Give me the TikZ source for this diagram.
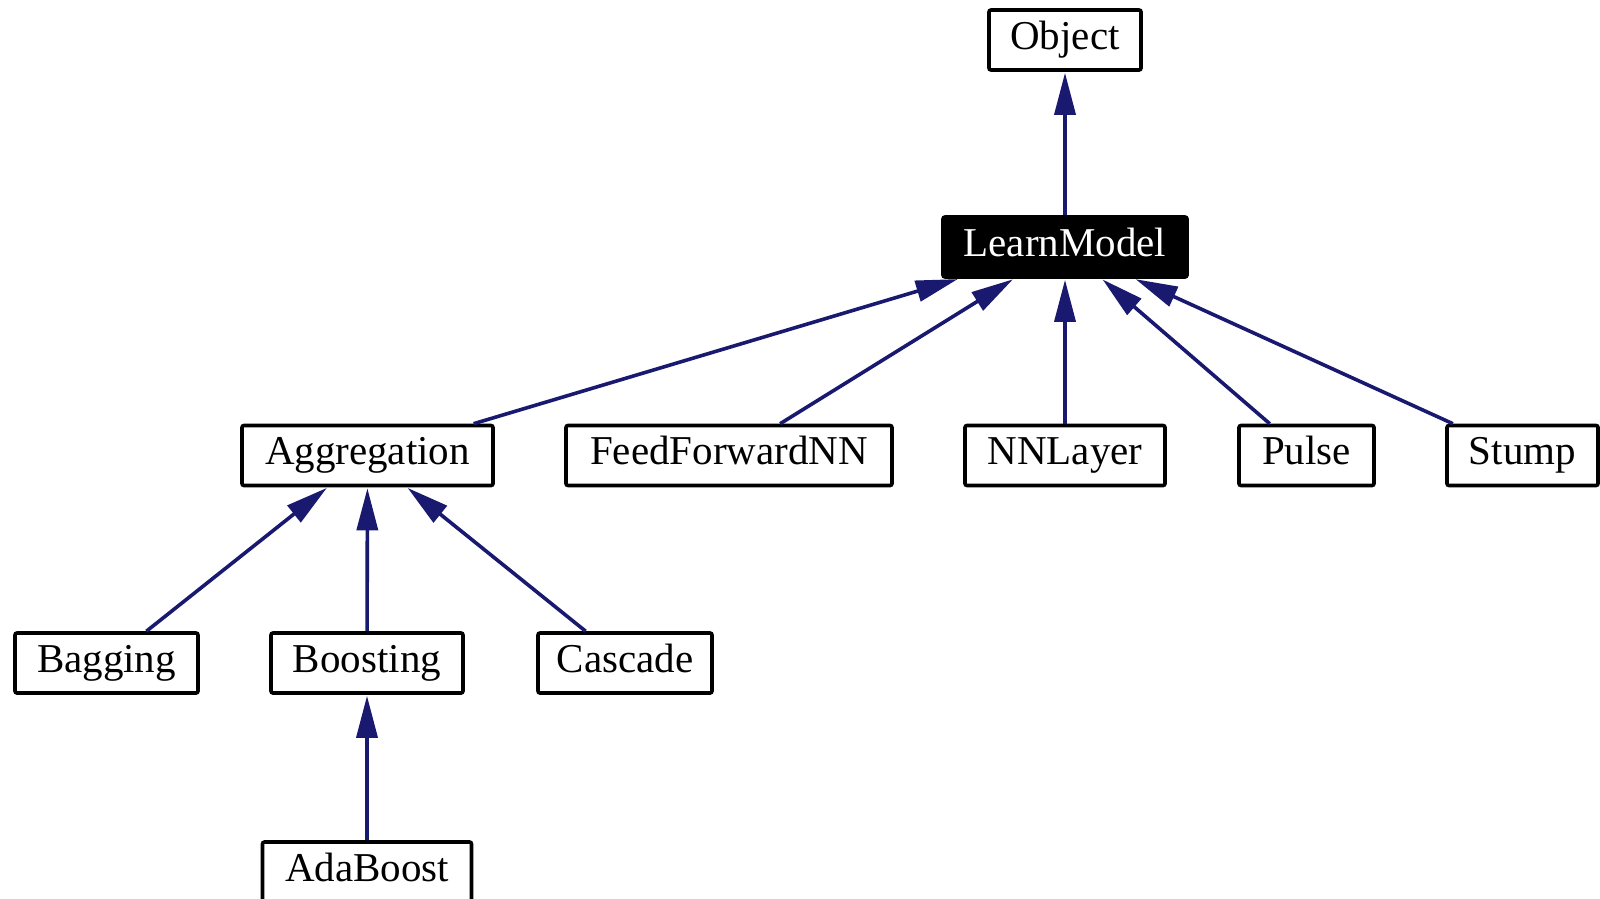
\documentclass[tikz,border=0pt]{standalone}
\usepackage{fontspec}
\setmainfont{Liberation Serif}
\usetikzlibrary{arrows.meta}
\definecolor{edgeblue}{HTML}{191970}
\tikzset{
  cls/.style={draw=black, line width=3.6pt, rounded corners=2pt, fill=white,
    inner sep=0pt, text height=30pt, text depth=12pt, minimum height=60pt,
    font=\fontsize{41}{49}\selectfont},
  cur/.style={cls, fill=black, text=white},
  inh/.style={draw=edgeblue, line width=3.6pt,
    -{Triangle[length=42pt,width=21pt,color=edgeblue]}, shorten >=1pt}
}
\begin{document}
\begin{tikzpicture}[x=1pt,y=-1pt]
\useasboundingbox (0,0) rectangle (1600,898);
\node[cls, minimum width=152pt] (obj) at (1065,40) {Object};
\node[cur, minimum width=244pt] (lm) at (1065,247) {LearnModel};
\node[cls, minimum width=251pt] (agg) at (367.5,455.5) {Aggregation};
\node[cls, minimum width=326pt] (ffn) at (729,455.5) {FeedForwardNN};
\node[cls, minimum width=200pt] (nnl) at (1065,455.5) {NNLayer};
\node[cls, minimum width=135pt] (pulse) at (1306.5,455.5) {Pulse};
\node[cls, minimum width=151pt] (stump) at (1522.5,455.5) {Stump};
\node[cls, minimum width=183pt] (bag) at (106.5,663) {Bagging};
\node[cls, minimum width=192pt] (boost) at (367,663) {Boosting};
\node[cls, minimum width=174pt] (casc) at (625,663) {Cascade};
\node[cls, minimum width=209pt] (ada) at (367,872) {AdaBoost};
\draw[inh] (lm) -- (obj);
\draw[inh] (agg) -- (lm);
\draw[inh] (ffn) -- (lm);
\draw[inh] (nnl) -- (lm);
\draw[inh] (pulse) -- (lm);
\draw[inh] (stump) -- (lm);
\draw[inh] (bag) -- (agg);
\draw[inh] (boost) -- (agg);
\draw[inh] (casc) -- (agg);
\draw[inh] (ada) -- (boost);
\end{tikzpicture}
\end{document}
